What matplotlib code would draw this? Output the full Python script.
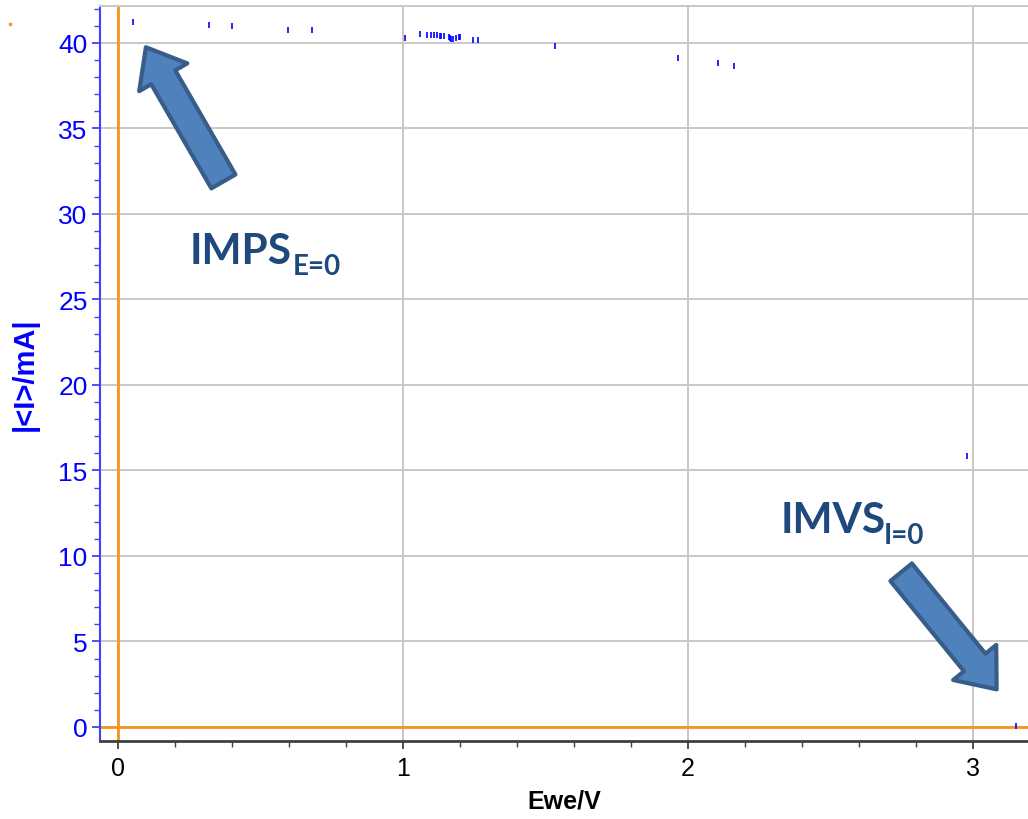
import matplotlib
matplotlib.use("Agg")
import matplotlib.pyplot as plt
from matplotlib.ticker import MultipleLocator
from matplotlib.lines import Line2D

# ---- data ----
ewe_v = [0.053, 0.319, 0.400, 0.596, 0.680, 1.007, 1.060, 1.084, 1.098, 1.109,
         1.119, 1.130, 1.133, 1.144, 1.161, 1.165, 1.168, 1.175, 1.186, 1.196,
         1.200, 1.246, 1.263, 1.533, 1.965, 2.105, 2.161, 2.979, 3.151]
abs_i_ma = [41.2, 41.05, 41.0, 40.76, 40.76, 40.3, 40.5, 40.47, 40.47, 40.45,
            40.45, 40.4, 40.4, 40.38, 40.32, 40.3, 40.25, 40.25, 40.3, 40.33,
            40.33, 40.18, 40.18, 39.8, 39.1, 38.8, 38.65, 15.85, 0.06]

x_major = [0, 1, 2, 3]
y_major = [0, 5, 10, 15, 20, 25, 30, 35, 40]

BLUE = "#0000FF"
ORANGE = "#F7941D"
GRID = "#C8C8C8"
ARROW_FC = "#4F81BD"
ARROW_EC = "#385D8A"
TXT = "#1F497D"
SANS = ["Liberation Sans", "DejaVu Sans"]

fig = plt.figure(figsize=(10.28, 8.2), dpi=100)
ax = fig.add_axes([100/1028, (820-742)/820, 928/1028, 735/820])

ax.set_xlim(-0.063, 3.193)
ax.set_ylim(-0.82, 42.16)

ax.set_xticks(x_major)
ax.set_yticks(y_major)
ax.xaxis.set_minor_locator(MultipleLocator(0.2))
ax.yaxis.set_minor_locator(MultipleLocator(1))

ax.grid(True, which="major", color=GRID, lw=1.4)
ax.set_axisbelow(True)

ax.spines["top"].set_color(GRID)
ax.spines["top"].set_linewidth(1.4)
ax.spines["right"].set_visible(False)
ax.spines["left"].set_color("#4040FF")
ax.spines["left"].set_linewidth(1.5)
ax.spines["bottom"].set_color("#404040")
ax.spines["bottom"].set_linewidth(2)

ax.tick_params(axis="y", which="both", colors="#4040FF", labelcolor=BLUE,
               labelsize=19, direction="out")
ax.tick_params(axis="y", which="major", length=6, width=1.3, pad=3)
ax.tick_params(axis="y", which="minor", length=4, width=1)
ax.tick_params(axis="x", which="both", colors="#404040", labelcolor="black",
               labelsize=18, direction="out")
ax.tick_params(axis="x", which="major", length=6, width=1.3, pad=5)
ax.tick_params(axis="x", which="minor", length=4, width=1)
for lab in ax.get_xticklabels() + ax.get_yticklabels():
    lab.set_family(SANS)

ax.axvline(0, color=ORANGE, lw=2, zorder=1.5)
ax.axhline(0, color=ORANGE, lw=2, zorder=1.5)

ax.plot(ewe_v, abs_i_ma, ls="none", marker="|", ms=4, mew=1.2,
        color=BLUE, zorder=3, clip_on=False)

ax.set_xlabel("Ewe/V", fontsize=18, fontweight="bold", labelpad=6, family=SANS)
ax.set_ylabel("|<I>/mA|", fontsize=21, fontweight="bold", color=BLUE,
              labelpad=14, family=SANS)

# arrows
astyle = "simple,head_length=1.25,head_width=2.0,tail_width=1.0"
ax.annotate("", xy=(0.098, 39.75), xytext=(0.37, 31.9),
            arrowprops=dict(arrowstyle=astyle, fc=ARROW_FC, ec=ARROW_EC, lw=3,
                            mutation_scale=20, shrinkA=0, shrinkB=0), zorder=4)
ax.annotate("", xy=(3.083, 2.2), xytext=(2.748, 9.05),
            arrowprops=dict(arrowstyle=astyle, fc=ARROW_FC, ec=ARROW_EC, lw=3,
                            mutation_scale=20, shrinkA=0, shrinkB=0), zorder=4)

tfam = ["Lato", "Open Sans", "DejaVu Sans"]
ax.text(0.253, 27.13, "IMPS", fontsize=30.5, fontweight="bold", color=TXT,
        ha="left", va="baseline", family=tfam)
ax.text(0.614, 26.5, "E=0", fontsize=20, fontweight="bold", color=TXT,
        ha="left", va="baseline", family=tfam)
ax.text(2.326, 11.4, "IMVS", fontsize=30.5, fontweight="bold", color=TXT,
        ha="left", va="baseline", family=tfam)
ax.text(2.688, 10.75, "I=0", fontsize=20, fontweight="bold", color=TXT,
        ha="left", va="baseline", family=tfam)

# small orange dot in the upper-left corner
fig.add_artist(Line2D([10/1028], [1 - 25/820], marker="s", ms=1.5,
                      color=ORANGE, ls="none", transform=fig.transFigure))

fig.savefig("out.png", dpi=100)
